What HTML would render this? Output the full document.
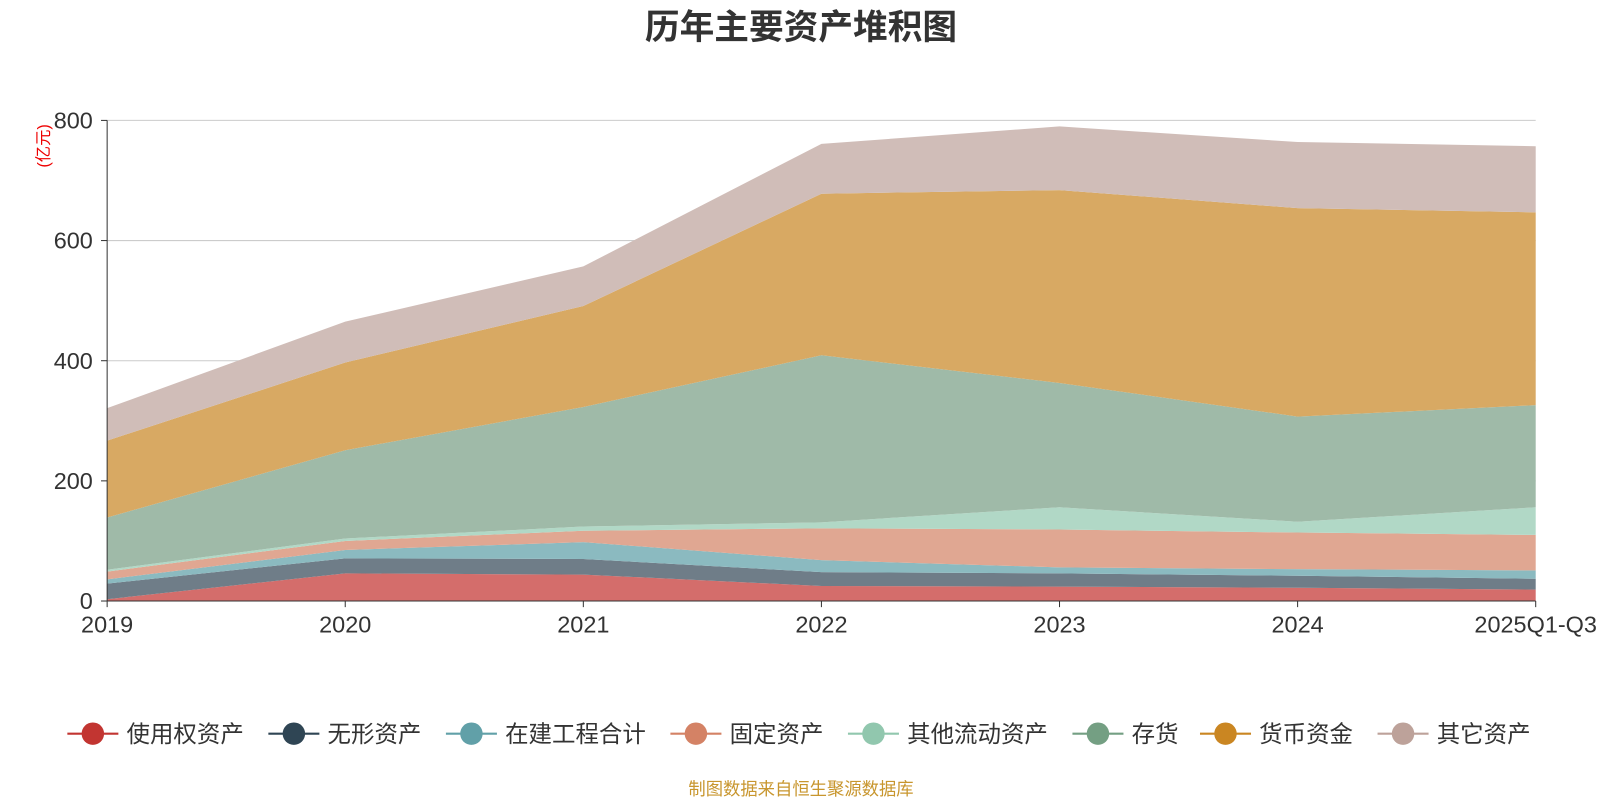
<!DOCTYPE html>
<html><head><meta charset="utf-8">
<style>
html,body{margin:0;padding:0;background:#fff;width:1600px;height:800px;overflow:hidden;font-family:"Liberation Sans","Noto Sans CJK SC",sans-serif;}
svg{display:block;}
</style></head>
<body>
<svg id="chart" width="1600" height="800" viewBox="0 0 1600 800" xmlns="http://www.w3.org/2000/svg">
<g transform="scale(1.0204)">
<text x="785" y="38" text-anchor="middle" font-size="34" font-weight="bold" fill="#333" font-family="Liberation Sans, Noto Sans CJK SC, sans-serif">历年主要资产堆积图</text>
<text transform="translate(48,143) rotate(-90)" text-anchor="middle" font-size="16" fill="#e00" font-family="Liberation Sans, Noto Sans CJK SC, sans-serif">(亿元)</text>
<g id="grid"></g><g id="areas"></g><g id="axes"></g><g id="legend"></g>
<text x="785" y="779" text-anchor="middle" font-size="17" fill="#c8962e" font-family="Liberation Sans, Noto Sans CJK SC, sans-serif">制图数据来自恒生聚源数据库</text>
</g>
</svg>
<script>
const categories = ["2019","2020","2021","2022","2023","2024","2025Q1-Q3"];
const seriesNames = ["使用权资产","无形资产","在建工程合计","固定资产","其他流动资产","存货","货币资金","其它资产"];
const s0 = [3,46,44,25,24,22,19];
const s1 = [26,25,26,23,22,20,18];
const s2 = [7,14,28,20,10,11,14];
const s3 = [13,15,19,53,63,61,59];
const s4 = [3,4,7,10,37,18,46];
const s5 = [87,147,199,278,207,175,170];
const s6 = [128,146,168,269,321,347,321];
const s7 = [54,68,66,83,106,110,110];
const yTicks = [0,200,400,600,800];
const seriesData = [s0,s1,s2,s3,s4,s5,s6,s7];
const fills = ["#d46d6b","#6f7d88","#8bbac0","#e0a792","#b1d8c6","#9fbaa8","#d8a963","#d0bdb8"];
const lineCols = ["#c23531","#2f4554","#61a0a8","#d48265","#91c7ae","#749f83","#ca8622","#bda29a"];
const X0=105,X1=1505,Y0=589,Y1=118,YMAX=800;
const xs = i => X0 + (X1-X0)*i/(categories.length-1);
const ys = v => Y0 - (Y0-Y1)*v/YMAX;
const NS="http://www.w3.org/2000/svg";
function mk(tag,attrs,parent){const e=document.createElementNS(NS,tag);for(const k in attrs)e.setAttribute(k,attrs[k]);parent.appendChild(e);return e;}
const grid=document.getElementById('grid'),areas=document.getElementById('areas'),axes=document.getElementById('axes'),legend=document.getElementById('legend');
yTicks.forEach(t=>{
  if(t>0){const l=mk('line',{x1:X0,x2:X1,y1:ys(t),y2:ys(t),stroke:'#ccc','stroke-width':1},grid);
  
  }
  const tx=mk('text',{x:X0-14,y:ys(t)+8,'text-anchor':'end','font-size':23,fill:'#333'},axes);
  tx.textContent=t;
  
  
  const tk=mk('line',{x1:X0-6,x2:X0,y1:ys(t),y2:ys(t),stroke:'#333'},axes);
  
  
});
let base=categories.map(()=>0);
seriesData.forEach((s,k)=>{
  const top=base.map((b,i)=>b+s[i]);
  let d='M'+top.map((v,i)=>xs(i)+','+ys(v)).join(' L');
  for(let i=categories.length-1;i>=0;i--) d+=' L'+xs(i)+','+ys(base[i]);
  d+=' Z';
  const p=mk('path',{d:d,fill:fills[k],stroke:'none'},areas);
  
  
  base=top;
});
const ax=mk('line',{x1:X0,x2:X0,y1:Y1,y2:Y0,stroke:'#333'},axes);


const xa=mk('line',{x1:X0,x2:X1,y1:Y0,y2:Y0,stroke:'#333'},axes);


categories.forEach((c,i)=>{
  const t=mk('text',{x:xs(i),y:Y0+31,'text-anchor':'middle','font-size':23,fill:'#333'},axes);
  t.textContent=c;
  
  
  const tk=mk('line',{x1:xs(i),x2:xs(i),y1:Y0,y2:Y0+6,stroke:'#333'},axes);
  
  
});
const legX=[66,263,437,657,831,1051,1176,1350];
seriesNames.forEach((n,k)=>{
  const g=mk('g',{},legend);
  
  
  mk('line',{x1:legX[k],x2:legX[k]+50,y1:719,y2:719,stroke:lineCols[k],'stroke-width':2},g);
  mk('circle',{cx:legX[k]+25,cy:719,r:11,fill:lineCols[k]},g);
  const t=mk('text',{x:legX[k]+58,y:727,'font-size':23,fill:'#333'},g);
  t.textContent=n;
});
</script>
</body></html>
